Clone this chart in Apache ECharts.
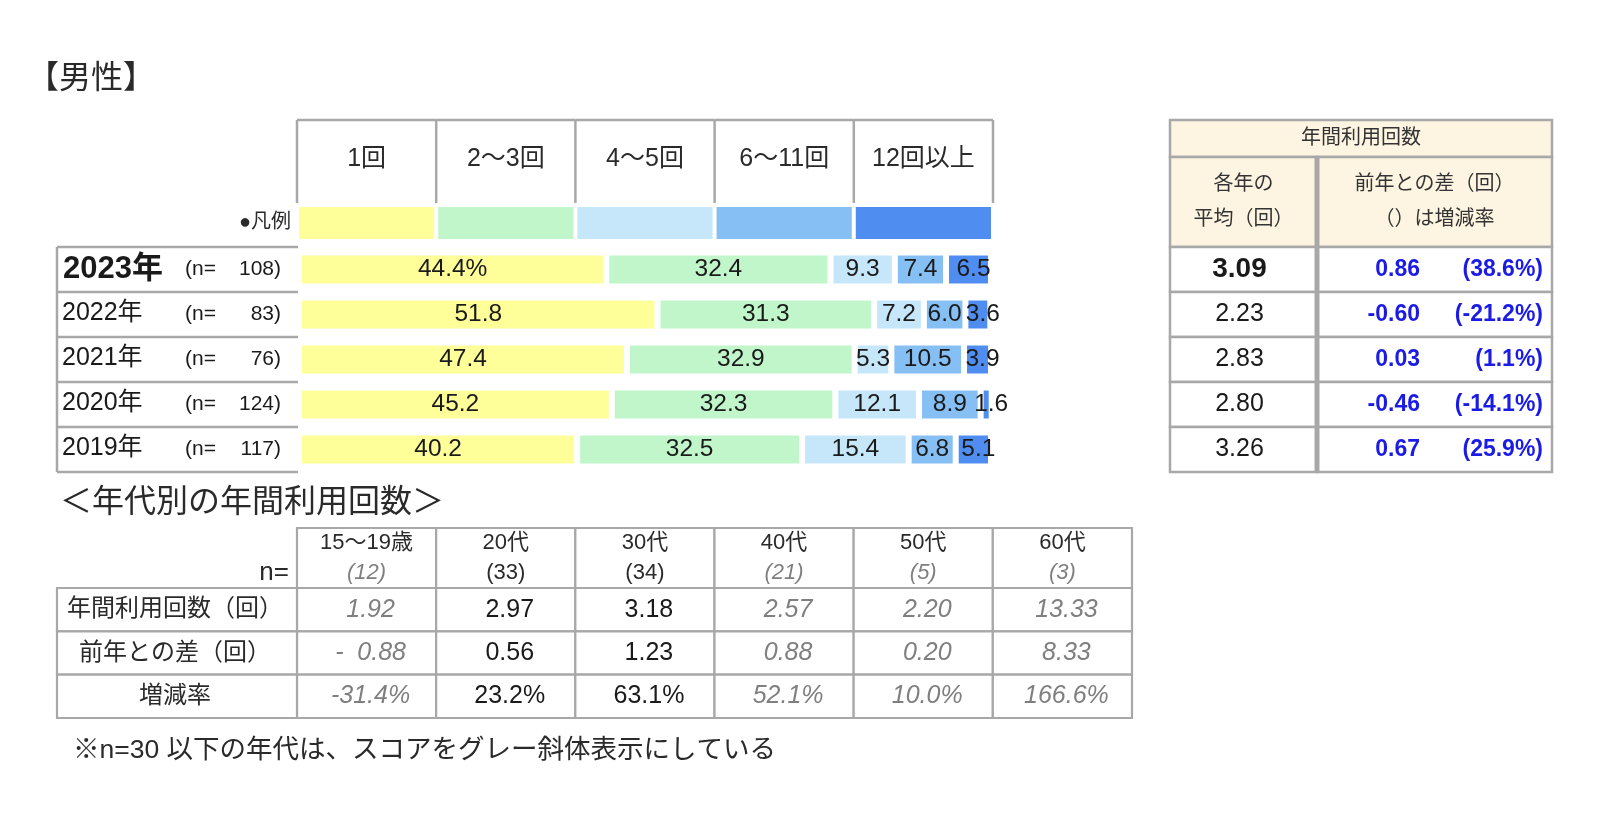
<!DOCTYPE html>
<html><head><meta charset="utf-8">
<script src="https://cdn.jsdelivr.net/npm/echarts@6/dist/echarts.min.js"></script>
<style>html,body{margin:0;padding:0;background:#fff}#main{width:1600px;height:815px}</style>
</head><body><div id="main"></div>
<script>
// ---------------- data ----------------
const YEARS = ['2023年', '2022年', '2021年', '2020年', '2019年'];
const N_SIZES = [108, 83, 76, 124, 117];
const FREQ_CATS = ['1回', '2～3回', '4～5回', '6～11回', '12回以上'];
const SHARE_1 = [44.4, 51.8, 47.4, 45.2, 40.2];
const SHARE_2_3 = [32.4, 31.3, 32.9, 32.3, 32.5];
const SHARE_4_5 = [9.3, 7.2, 5.3, 12.1, 15.4];
const SHARE_6_11 = [7.4, 6.0, 10.5, 8.9, 6.8];
const SHARE_12P = [6.5, 3.6, 3.9, 1.6, 5.1];
const AVG_TIMES = [3.09, 2.23, 2.83, 2.80, 3.26];
const DIFF_TIMES = [0.86, -0.60, 0.03, -0.46, 0.67];
const DIFF_RATE = [38.6, -21.2, 1.1, -14.1, 25.9];
const AGE_GROUPS = ['15～19歳', '20代', '30代', '40代', '50代', '60代'];
const AGE_N = [12, 33, 34, 21, 5, 3];
const AGE_AVG = [1.92, 2.97, 3.18, 2.57, 2.20, 13.33];
const AGE_DIFF = [-0.88, 0.56, 1.23, 0.88, 0.20, 8.33];
const AGE_RATE = [-31.4, 23.2, 63.1, 52.1, 10.0, 166.6];
const AGE_ROWS = ['年間利用回数（回）', '前年との差（回）', '増減率'];

// ---------------- style ----------------
const FONT = "'Liberation Sans','Noto Sans CJK JP',sans-serif";
const TXT = '#1a1a1a';
const GRAY = '#7f7f7f';
const BLUE = '#1b1be6';
const LINE_C = '#a8a8a8';
const CREAM = '#fdf5e2';
const COLORS = ['#ffff99', '#c1f6cb', '#c6e7fa', '#86bff4', '#4f8ef0'];

function txt(text, x, y, o) {
  o = o || {};
  const s = {text: text, x: x, y: y, fill: o.fill || TXT, fontSize: o.size || 22,
    fontFamily: FONT, fontWeight: o.weight || 'normal', fontStyle: o.style || 'normal',
    align: o.align || 'center', verticalAlign: 'middle'};
  if (o.lh) s.lineHeight = o.lh;
  return {type: 'text', silent: true, style: s};
}
function line(x1, y1, x2, y2, w, c) {
  return {type: 'line', silent: true, shape: {x1, y1, x2, y2}, style: {stroke: c || LINE_C, lineWidth: w || 2.5}};
}
function cell(x, y, w, h, fill, lw) {
  return {type: 'rect', silent: true, shape: {x, y, width: w, height: h},
    style: {fill: fill || '#fff', stroke: LINE_C, lineWidth: lw || 2.5}};
}

const grids = [], xAxes = [], yAxes = [];
function addGrid(rect, xa, ya) {
  grids.push(rect);
  const gi = grids.length - 1;
  xAxes.push(Object.assign({gridIndex: gi, show: false}, xa));
  yAxes.push(Object.assign({gridIndex: gi, show: false}, ya));
  return gi;
}
const VAL01 = {type: 'value', min: 0, max: 1};

const G_BAR = addGrid({left: 299, top: 247, width: 692, height: 225},
  {type: 'value', min: 0, max: 100}, {type: 'category', data: YEARS, inverse: true});
const G_ROW = addGrid({left: 57, top: 247, width: 241, height: 225},
  VAL01, {type: 'category', data: YEARS, inverse: true});
const G_HEAD = addGrid({left: 297, top: 120, width: 696, height: 119},
  {type: 'category', data: FREQ_CATS}, VAL01);
const G_RT = addGrid({left: 1170, top: 247, width: 382, height: 225},
  VAL01, {type: 'category', data: YEARS, inverse: true});
const G_AGE = addGrid({left: 297, top: 588, width: 835, height: 130},
  {type: 'category', data: AGE_GROUPS}, {type: 'category', data: AGE_ROWS, inverse: true});

const SHARES = [SHARE_1, SHARE_2_3, SHARE_4_5, SHARE_6_11, SHARE_12P];
const series = FREQ_CATS.map((name, k) => ({
  type: 'bar', name: name, stack: 'share', xAxisIndex: G_BAR, yAxisIndex: G_BAR,
  data: SHARES[k], barWidth: 34, silent: true,
  itemStyle: {color: COLORS[k], borderColor: '#fff', borderWidth: 3},
  label: {show: true, position: 'inside', fontSize: 24.5, fontFamily: FONT, color: TXT,
    offset: k === FREQ_CATS.length - 1 ? [5, 0] : [0, 0],
    formatter: p => (k === 0 && p.dataIndex === 0) ? p.value.toFixed(1) + '%' : p.value.toFixed(1)}
}));

// row label table
series.push({
  type: 'custom', xAxisIndex: G_ROW, yAxisIndex: G_ROW, silent: true,
  data: YEARS.map((_, i) => [0, i]),
  renderItem(params, api) {
    const i = params.dataIndex, cs = params.coordSys;
    const yc = api.coord([0, i])[1], bh = api.size([0, 1])[1];
    const top = yc - bh / 2, bot = yc + bh / 2, L = cs.x, R = cs.x + cs.width;
    const ch = [
      line(L, top, R, top), line(L, top, L, bot),
      i === 0 ? txt(YEARS[i], L + 6, yc, {size: 31, weight: 'bold', align: 'left'})
              : txt(YEARS[i], L + 5, yc - 1, {size: 25, align: 'left'}),
      txt('(n=', L + 128, yc, {size: 21, align: 'left'}),
      txt(N_SIZES[i] + ')', L + 224, yc, {size: 21, align: 'right'})
    ];
    if (i === YEARS.length - 1) ch.push(line(L, bot, R, bot));
    return {type: 'group', children: ch};
  }
});

// category header + legend swatches
series.push({
  type: 'custom', xAxisIndex: G_HEAD, yAxisIndex: G_HEAD, silent: true,
  data: FREQ_CATS.map((_, i) => [i, 0]),
  renderItem(params, api) {
    const i = params.dataIndex, cs = params.coordSys;
    const xc = api.coord([i, 0])[0], bw = api.size([1, 0])[0];
    const L = xc - bw / 2, R = xc + bw / 2, top = cs.y, HH = 83;
    const ch = [
      line(L, top, R, top), line(L, top, L, top + HH),
      txt(FREQ_CATS[i], xc, top + 39, {size: 25, fill: '#2a2a2a'}),
      {type: 'rect', silent: true, shape: {x: L + 2, y: top + 87, width: bw - 4, height: 32}, style: {fill: COLORS[i]}}
    ];
    if (i === FREQ_CATS.length - 1) ch.push(line(R, top, R, top + HH));
    return {type: 'group', children: ch};
  }
});

// right table
series.push({
  type: 'custom', xAxisIndex: G_RT, yAxisIndex: G_RT, silent: true,
  data: YEARS.map((_, i) => [0, i]),
  renderItem(params, api) {
    const i = params.dataIndex, cs = params.coordSys;
    const yc = api.coord([0, i])[1], bh = api.size([0, 1])[1];
    const top = yc - bh / 2, L = cs.x, R = cs.x + cs.width, M = L + 147;
    const ch = [];
    if (i === 0) {
      const h2 = top - 90, h1 = h2 - 37;
      ch.push(cell(L, h1, R - L, 37, CREAM), cell(L, h2, M - L, 90, CREAM), cell(M, h2, R - M, 90, CREAM));
      ch.push(txt('年間利用回数', (L + R) / 2, h1 + 18.5, {size: 20, fill: '#333'}));
      ch.push(txt('各年の\n平均（回）', (L + M) / 2, h2 + 45, {size: 20, lh: 35, fill: '#333'}));
      ch.push(txt('前年との差（回）\n（）は増減率', (M + R) / 2, h2 + 45, {size: 20, lh: 35, fill: '#333'}));
      ch.push(line(M, h2, M, top, 5));
    }
    ch.push(cell(L, top, M - L, bh), cell(M, top, R - M, bh));
    ch.push(line(M, top, M, top + bh, 5));
    ch.push(i === 0 ? txt(AVG_TIMES[i].toFixed(2), (L + M) / 2 - 4, yc, {size: 28, weight: 'bold'})
                    : txt(AVG_TIMES[i].toFixed(2), (L + M) / 2 - 4, yc, {size: 25}));
    ch.push(txt(DIFF_TIMES[i].toFixed(2), M + 103, yc, {size: 23, weight: 'bold', fill: BLUE, align: 'right'}));
    ch.push(txt('(' + DIFF_RATE[i].toFixed(1) + '%)', R - 9, yc, {size: 23, weight: 'bold', fill: BLUE, align: 'right'}));
    return {type: 'group', children: ch};
  }
});

// age table
const ageData = [];
AGE_ROWS.forEach((_, r) => AGE_GROUPS.forEach((__, c) => ageData.push([c, r])));
function ageValue(c, r) {
  if (r === 0) return AGE_AVG[c].toFixed(2);
  if (r === 1) return AGE_DIFF[c] < 0 ? '-  ' + Math.abs(AGE_DIFF[c]).toFixed(2) : AGE_DIFF[c].toFixed(2);
  return AGE_RATE[c].toFixed(1) + '%';
}
series.push({
  type: 'custom', xAxisIndex: G_AGE, yAxisIndex: G_AGE, silent: true,
  data: ageData,
  renderItem(params, api) {
    const c = api.value(0), r = api.value(1);
    const p = api.coord([c, r]);
    const bw = api.size([1, 1])[0], bh = api.size([1, 1])[1];
    const L = p[0] - bw / 2, top = p[1] - bh / 2;
    const small = AGE_N[c] <= 30;
    const vs = small ? {fill: GRAY, style: 'italic'} : {};
    const ch = [cell(L, top, bw, bh, '#fff', 2.2)];
    ch.push(txt(ageValue(c, r), p[0] + 4, p[1], Object.assign({size: 25}, vs)));
    if (r === 0) {
      ch.push(cell(L, top - 60, bw, 60, '#fff', 2.2));
      ch.push(txt(AGE_GROUPS[c], p[0], top - 45, {size: 22, fill: '#2a2a2a'}));
      ch.push(txt('(' + AGE_N[c] + ')', p[0], top - 15, Object.assign({size: 22, fill: '#2a2a2a'}, vs)));
    }
    if (c === 0) {
      ch.push(cell(L - 240, top, 240, bh, '#fff', 2.2));
      ch.push(txt(AGE_ROWS[r], L - 122, p[1], {size: 24, fill: '#2a2a2a'}));
    }
    return {type: 'group', children: ch};
  }
});

const option = {
  animation: false,
  backgroundColor: '#fff',
  grid: grids, xAxis: xAxes, yAxis: yAxes,
  series: series,
  graphic: [
    {type: 'text', x: 27, y: 79, silent: true, style: {text: '【男性】', fontSize: 32, fontFamily: FONT, fill: '#2a2a2a', align: 'left', verticalAlign: 'middle'}},
    {type: 'text', x: 291, y: 222, silent: true, style: {text: '●凡例', fontSize: 20, fontFamily: FONT, fill: '#2a2a2a', align: 'right', verticalAlign: 'middle'}},
    {type: 'text', x: 60, y: 503, silent: true, style: {text: '＜年代別の年間利用回数＞', fontSize: 32, fontFamily: FONT, fill: '#2a2a2a', align: 'left', verticalAlign: 'middle'}},
    {type: 'text', x: 289, y: 573, silent: true, style: {text: 'n=', fontSize: 26, fontFamily: FONT, fill: '#2a2a2a', align: 'right', verticalAlign: 'middle'}},
    {type: 'text', x: 73, y: 751, silent: true, style: {text: '※n=30 以下の年代は、スコアをグレー斜体表示にしている', fontSize: 26.5, fontFamily: FONT, fill: '#2a2a2a', align: 'left', verticalAlign: 'middle'}}
  ]
};
const chart = echarts.init(document.getElementById('main'), null, {renderer: 'canvas'});
chart.setOption(option);
</script></body></html>
